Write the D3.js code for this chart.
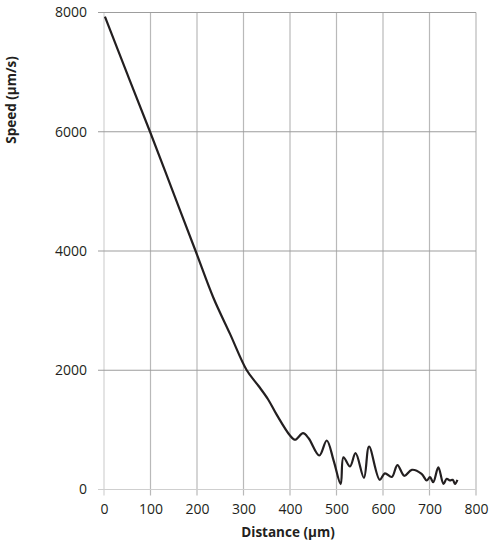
<!DOCTYPE html>
<html>
<head>
<meta charset="utf-8">
<script src="https://cdn.jsdelivr.net/npm/d3@7"></script>
<style>
  body { margin: 0; background: #fff; }
  text { font-family: "Open Sans", sans-serif; fill: #231f20; }
</style>
</head>
<body>
<div id="chart"></div>
<script>
// Set up the SVG container
const width = 492;
const height = 544;
const margin = { top: 12.5, right: 16, bottom: 54.5, left: 104 };

// data
const distance = [2, 50, 99, 148, 197, 235, 271, 307, 332, 353, 371, 400, 411, 428, 440, 463, 479,
  494, 509, 515, 529, 541, 559, 570, 593, 604, 619, 631, 646, 662, 683, 694, 701, 708, 719, 730, 737, 744, 750, 755, 760];
const speed = [7930, 6970, 6000, 5000, 4000, 3220, 2610, 2000, 1740, 1510, 1260, 906, 834, 944, 860, 570, 822,
  480, 90, 540, 386, 609, 196, 721, 163, 270, 210, 410, 230, 330, 263, 151, 207, 123, 370, 95, 180, 151, 163, 95, 163];
const xTicks = [0, 100, 200, 300, 400, 500, 600, 700, 800];
const yTicks = [0, 2000, 4000, 6000, 8000];

const points = distance.map((d, i) => ({ x: d, y: speed[i] }));

const svg = d3.select("#chart")
    .append("svg")
    .attr("width", width)
    .attr("height", height);

const x = d3.scaleLinear().domain([0, 800]).range([margin.left, width - margin.right]);
const y = d3.scaleLinear().domain([0, 8000]).range([height - margin.bottom, margin.top]);

// vertical grid lines (run a bit below the axis as ticks)
svg.append("g")
    .selectAll("line")
    .data(xTicks)
    .enter()
    .append("line")
    .attr("x1", d => x(d))
    .attr("x2", d => x(d))
    .attr("y1", y(8000))
    .attr("y2", y(0) + 6)
    .style("stroke", d => d === 0 ? "#d2d2d2" : "#b9b9b9")
    .style("stroke-width", 1.2);

// horizontal grid lines
svg.append("g")
    .selectAll("line")
    .data(yTicks)
    .enter()
    .append("line")
    .attr("x1", x(0) - 6)
    .attr("x2", x(800))
    .attr("y1", d => y(d))
    .attr("y2", d => y(d))
    .style("stroke", d => d === 0 ? "#cfcfcf" : "#9d9d9d")
    .style("stroke-width", 1.2);

// tick labels through the axis generators
const xAxis = svg.append("g")
    .attr("transform", `translate(0, ${y(0)})`)
    .call(d3.axisBottom(x).tickValues(xTicks).tickFormat(d3.format("d")).tickSize(0).tickPadding(15));
xAxis.select(".domain").remove();
xAxis.selectAll("text").style("font-size", "14px").style("fill", "#231f20");

const yAxis = svg.append("g")
    .attr("transform", `translate(${x(0)}, 0)`)
    .call(d3.axisLeft(y).tickValues(yTicks).tickFormat(d3.format("d")).tickSize(0).tickPadding(17));
yAxis.select(".domain").remove();
yAxis.selectAll("text").style("font-size", "14px").style("fill", "#231f20");

// axis titles
svg.append("text")
    .attr("x", 288)
    .attr("y", 537)
    .attr("text-anchor", "middle")
    .style("font-size", "13.5px")
    .style("font-weight", "bold")
    .text("Distance (µm)");

svg.append("text")
    .attr("transform", "translate(16, 100) rotate(-90)")
    .attr("text-anchor", "middle")
    .style("font-size", "13.5px")
    .style("font-weight", "bold")
    .text("Speed (µm/s)");

// the speed curve
const line = d3.line()
    .x(d => x(d.x))
    .y(d => y(d.y))
    .curve(d3.curveCatmullRom.alpha(0.5));

svg.append("path")
    .datum(points)
    .attr("d", line)
    .style("fill", "none")
    .style("stroke", "#231f20")
    .style("stroke-width", 2.2)
    .style("stroke-linejoin", "round");
</script>
</body>
</html>
